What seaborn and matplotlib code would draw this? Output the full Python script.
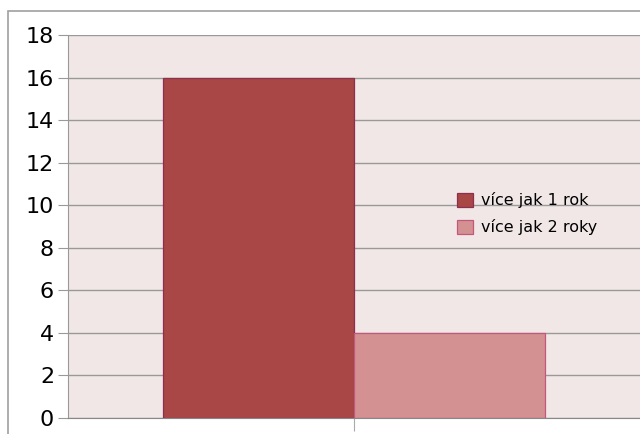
import matplotlib
matplotlib.use("Agg")
import matplotlib.pyplot as plt
from matplotlib.patches import Rectangle
import seaborn as sns
import pandas as pd

# data
category = [""]
series = ["více jak 1 rok", "více jak 2 roky"]
values = [16, 4]
colors = ["#A84745", "#D49191"]
edges = ["#8E2F4E", "#C2587E"]

df = pd.DataFrame({"cat": category * len(series), "serie": series, "val": values})

sns.set_style("white")
plt.rcParams["font.family"] = ["DejaVu Sans"]

fig = plt.figure(figsize=(6.4, 4.34), dpi=100)
fig.patch.set_facecolor("white")
ax = fig.add_axes([68 / 640, 16 / 434, 572 / 640, 383 / 434])
ax.set_facecolor("#F2E7E7")

sns.barplot(data=df, x="cat", y="val", hue="serie", palette=colors,
            width=0.667, gap=0, linewidth=0.9, saturation=1, ax=ax)
for bar, ec in zip(ax.patches, edges):
    bar.set_edgecolor(ec)

ax.set_ylim(0, 18)
ax.set_xlim(-0.5, 0.5)
ax.set_yticks(range(0, 19, 2))
ax.tick_params(axis="y", labelsize=16, labelcolor="black", length=7, color="#999999",
               direction="out", left=True, pad=3)
ax.tick_params(axis="x", length=9, color="#AAAAAA", direction="out", bottom=True,
               labelbottom=False)
ax.set_xticks([0])
ax.yaxis.grid(True, color="#999999", linewidth=1)
ax.set_axisbelow(True)
ax.set_xlabel("")
ax.set_ylabel("")
for s in ["top", "right"]:
    ax.spines[s].set_visible(False)
ax.spines["left"].set_color("#999999")
ax.spines["bottom"].set_color("#888888")

ax.get_legend().remove()
handles, labels = ax.get_legend_handles_labels()
leg = fig.legend(handles, labels, loc="upper left", bbox_to_anchor=(446 / 640, 1 - 181 / 434),
                 frameon=False, fontsize=11.5, handlelength=1.0, handleheight=1.0,
                 handletextpad=0.5, labelspacing=0.7, borderpad=0.2)
for t in leg.get_texts():
    t.set_color("black")
for h, ec in zip(leg.legend_handles, edges):
    h.set_edgecolor(ec)
    h.set_linewidth(0.9)

# outer chart frame
fig.patches.append(Rectangle((8 / 640, -0.2), 1.2, 1.2 - 11 / 434, fill=False,
                             edgecolor="#A0A0A0", linewidth=1.2,
                             transform=fig.transFigure, figure=fig))

fig.savefig("out.png", dpi=100)
